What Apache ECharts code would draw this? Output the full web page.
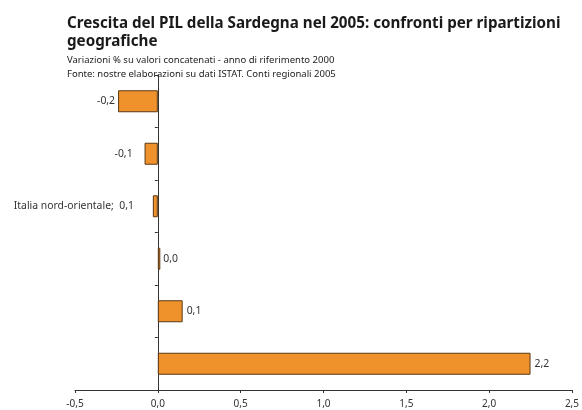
<!DOCTYPE html>
<html>
<head>
<meta charset="utf-8">
<script src="https://cdn.jsdelivr.net/npm/echarts@6/dist/echarts.min.js"></script>
<style>
  html, body { margin: 0; padding: 0; background: #fff; }
  #chart { width: 582px; height: 410px; }
</style>
</head>
<body>
<div id="chart"></div>
<script>
// category keys (names not shown on the chart, only the value labels)
const categories = ['r1', 'r2', 'r3', 'r4', 'r5', 'r6'];
const values = [-0.24, -0.08, -0.03, 0.015, 0.15, 2.25];
const barLabels = ['-0,2', '-0,1', 'Italia nord-orientale;  0,1', '0,0', '0,1', '2,2'];
const xTicks = ['-0,5', '0,0', '0,5', '1,0', '1,5', '2,0', '2,5'];
// label gap from the bar end, as in the original
const labelGaps = [3, 12, 19, 3, 4, 4];

const chart = echarts.init(document.getElementById('chart'));

const option = {
  animation: false,
  title: {
    text: 'Crescita del PIL della Sardegna nel 2005: confronti per ripartizioni\ngeografiche',
    subtext: 'Variazioni % su valori concatenati - anno di riferimento 2000\nFonte: nostre elaborazioni su dati ISTAT. Conti regionali 2005',
    left: 62,
    top: 10,
    itemGap: 2,
    textStyle: {
      fontFamily: 'Noto Sans',
      fontSize: 15.2,
      fontWeight: 'bold',
      color: '#1a1a1a',
      lineHeight: 18
    },
    subtextStyle: {
      fontFamily: 'Noto Sans',
      fontSize: 9.5,
      color: '#222',
      lineHeight: 14
    }
  },
  grid: {
    left: 75,
    right: 8,
    top: 75,
    bottom: 20,
    containLabel: false
  },
  xAxis: {
    type: 'value',
    min: -0.5,
    max: 2.5,
    interval: 0.5,
    splitLine: {show: false},
    axisLine: {show: true, onZero: false, lineStyle: {color: '#333', width: 1}},
    axisTick: {show: true, length: 3, lineStyle: {color: '#333'}},
    axisLabel: {
      margin: 9,
      fontFamily: 'Noto Sans',
      fontSize: 10,
      color: '#333',
      formatter: (v) => xTicks[Math.round((v + 0.5) / 0.5)]
    }
  },
  yAxis: {
    type: 'category',
    inverse: true,
    data: categories,
    axisLine: {show: true, onZero: true, lineStyle: {color: '#333', width: 1}},
    axisTick: {show: true, length: 3, lineStyle: {color: '#333'}},
    axisLabel: {show: false}
  },
  series: [
    {
      type: 'bar',
      // negative bars get their label on the left
      data: values.map((v, i) => ({
        value: v,
        label: {position: v < 0 ? 'left' : 'right', distance: labelGaps[i]}
      })),
      barWidth: 22,
      itemStyle: {
        color: '#f0922b',
        borderColor: '#5a3815',
        borderWidth: 1
      },
      label: {
        show: true,
        fontFamily: 'Noto Sans',
        fontSize: 10.4,
        color: '#333',
        formatter: (p) => barLabels[p.dataIndex]
      }
    }
  ]
};

chart.setOption(option);
</script>
</body>
</html>
